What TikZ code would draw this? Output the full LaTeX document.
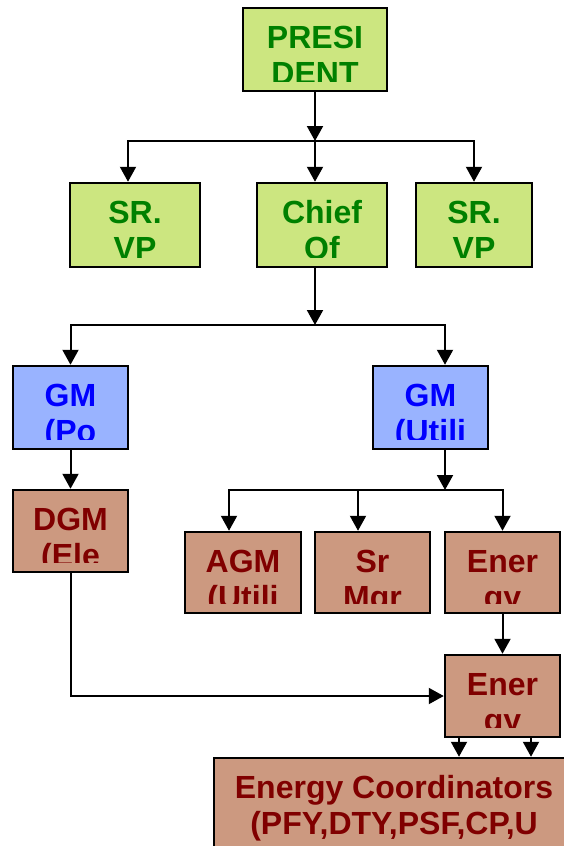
\documentclass[tikz,border=0pt]{standalone}
\usepackage{fontspec}
\setmainfont{Liberation Sans}
\usetikzlibrary{arrows.meta}
\definecolor{boxgreen}{HTML}{CCE680}
\definecolor{txtgreen}{HTML}{008000}
\definecolor{boxblue}{HTML}{99B3FF}
\definecolor{txtblue}{HTML}{0000FF}
\definecolor{boxbrown}{HTML}{CC9980}
\definecolor{txtbrown}{HTML}{800000}
\tikzset{
  orgbox/.style={draw=black, line width=2.5pt, inner sep=0pt},
  greenbox/.style={orgbox, fill=boxgreen},
  bluebox/.style={orgbox, fill=boxblue},
  brownbox/.style={orgbox, fill=boxbrown},
  link/.style={line width=2pt, -{Triangle[length=15pt,width=16pt]}}
}
% two lines of text, cut off near the bottom of the box
\newcommand{\orgtext}[4]{%
  \begin{scope}
    \clip ([yshift=11pt]#1.south west) rectangle (#1.north east);
    \node[anchor=base, text=#2] at ([yshift=-41.5pt]#1.north) {#3};
    \node[anchor=base, text=#2] at ([yshift=-78pt]#1.north) {#4};
  \end{scope}}
\begin{document}
\begin{tikzpicture}[x=1pt, y=-1pt, font=\fontsize{32}{36}\selectfont\bfseries]
    \clip (0,0) rectangle (564,846);
    % boxes
    \node[greenbox, minimum width=144pt, minimum height=83pt] (pres) at (315,49.5) {};
    \node[greenbox, minimum width=130pt, minimum height=84pt] (srl) at (135,225) {};
    \node[greenbox, minimum width=130pt, minimum height=84pt] (chief) at (322,225) {};
    \node[greenbox, minimum width=116pt, minimum height=84pt] (srr) at (474,225) {};
    \node[bluebox, minimum width=115pt, minimum height=83pt] (gmp) at (70.5,407.5) {};
    \node[bluebox, minimum width=115pt, minimum height=83pt] (gmu) at (430.5,407.5) {};
    \node[brownbox, minimum width=115pt, minimum height=82pt] (dgm) at (70.5,531) {};
    \node[brownbox, minimum width=116pt, minimum height=81pt] (agm) at (243,572.5) {};
    \node[brownbox, minimum width=115pt, minimum height=81pt] (mgr) at (372.5,572.5) {};
    \node[brownbox, minimum width=115pt, minimum height=81pt] (ener) at (502.5,572.5) {};
    \node[brownbox, minimum width=115pt, minimum height=82pt] (ener2) at (502.5,696) {};
    \node[brownbox, minimum width=360pt, minimum height=112pt] (coord) at (394,814) {};
    % texts
    \orgtext{pres}{txtgreen}{PRESI}{DENT}
    \orgtext{srl}{txtgreen}{SR.}{VP}
    \orgtext{chief}{txtgreen}{Chief}{Of}
    \orgtext{srr}{txtgreen}{SR.}{VP}
    \orgtext{gmp}{txtblue}{GM}{(Po}
    \orgtext{gmu}{txtblue}{GM}{(Utili}
    \orgtext{dgm}{txtbrown}{DGM}{(Ele}
    \orgtext{agm}{txtbrown}{AGM}{(Utili}
    \orgtext{mgr}{txtbrown}{Sr}{Mgr}
    \orgtext{ener}{txtbrown}{Ener}{gy}
    \orgtext{ener2}{txtbrown}{Ener}{gy}
    \orgtext{coord}{txtbrown}{Energy Coordinators}{(PFY,DTY,PSF,CP,U}
    % connectors
    \coordinate (busA) at (315,141);
    \coordinate (busB) at (315,325);
    \coordinate (busC) at (445,490);
    \draw[link] (pres.south) -- (busA);
    \draw[link] (busA) -| ([xshift=-7pt]srl.north);
    \draw[link] (busA) -- (busA |- chief.north);
    \draw[link] (busA) -| (srr.north);
    \draw[link] (chief.south -| busB) -- (busB);
    \draw[link] (busB) -| (gmp.north);
    \draw[link] (busB) -| ([xshift=14.5pt]gmu.north);
    \draw[link] (gmp) -- (dgm);
    \draw[link] (gmu.south -| busC) -- (busC);
    \draw[link] (busC) -| ([xshift=-14pt]agm.north);
    \draw[link] (busC) -| ([xshift=-14.5pt]mgr.north);
    \draw[link] (busC) -| (ener.north);
    \draw[link] (ener) -- (ener2);
    \draw[link] (dgm.south) |- (ener2.west);
    \draw[link] ([xshift=-43.5pt]ener2.south) -- ([xshift=-43.5pt]ener2.south |- coord.north);
    \draw[link] ([xshift=28.5pt]ener2.south) -- ([xshift=28.5pt]ener2.south |- coord.north);
\end{tikzpicture}
\end{document}
